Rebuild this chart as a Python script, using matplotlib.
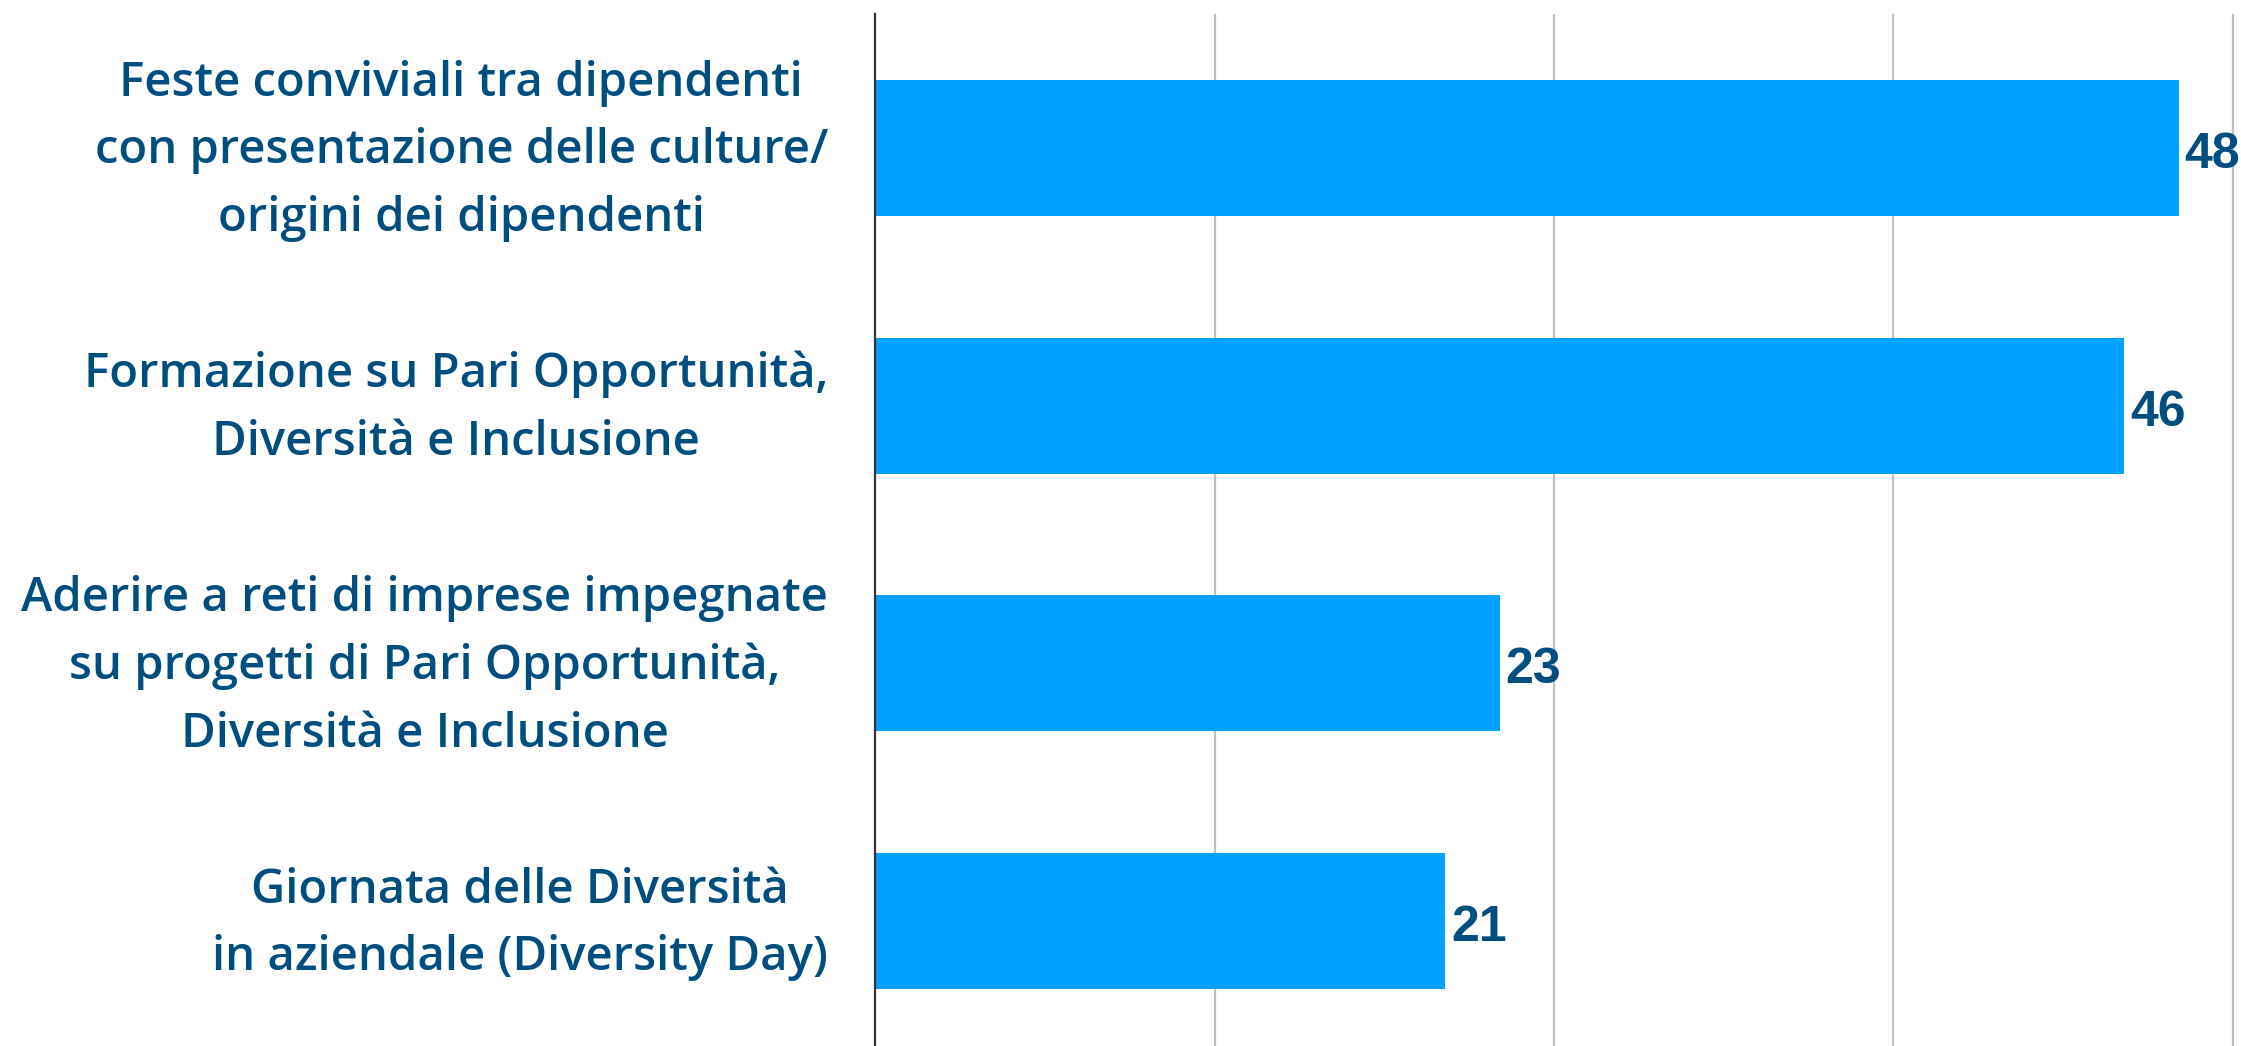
import matplotlib
matplotlib.use("Agg")
import matplotlib.pyplot as plt

# Data
categories = [
    "Feste conviviali tra dipendenti\ncon presentazione delle culture/\norigini dei dipendenti",
    "Formazione su Pari Opportunità,\nDiversità e Inclusione",
    "Aderire a reti di imprese impegnate\nsu progetti di Pari Opportunità,\nDiversità e Inclusione",
    "Giornata delle Diversità\nin aziendale (Diversity Day)",
]
values = [48, 46, 23, 21]
grid_ticks = [12.5, 25, 37.5, 50]

BAR_COLOR = "#00A2FF"
TEXT_COLOR = "#004E80"

fig = plt.figure(figsize=(22.41, 10.46), dpi=100)
ax = fig.add_axes([0.3905, 0.0, 0.6095, 0.9866])

positions = list(range(len(categories)))
ax.barh(positions, values, height=0.528, color=BAR_COLOR, zorder=3)

ax.set_xlim(0, 50.3)
ax.set_ylim(3.485, -0.52)

# vertical gridlines only
ax.set_xticks(grid_ticks)
ax.xaxis.grid(True, color="#c0c0c0", linewidth=1.6, zorder=0)
ax.tick_params(axis="x", length=0, labelbottom=False)

for side in ("top", "right", "bottom"):
    ax.spines[side].set_visible(False)
ax.spines["left"].set_color("#333333")
ax.spines["left"].set_linewidth(1.6)
ax.spines["left"].set_zorder(4)

# category labels, right-aligned blocks with centred lines
ax.set_yticks(positions)
ax.set_yticklabels([])
ax.tick_params(axis="y", length=0)
for pos, cat in zip(positions, categories):
    ax.annotate(cat, xy=(0, pos), xycoords=("axes fraction", "data"),
                xytext=(-34, -2), textcoords="offset points",
                ha="right", va="center", multialignment="center",
                fontsize=34, fontweight="semibold", linespacing=1.57,
                family=["Open Sans", "DejaVu Sans"], color=TEXT_COLOR,
                annotation_clip=False)

# value labels at bar ends
for pos, val in zip(positions, values):
    ax.annotate(f"{val}", xy=(val, pos), xytext=(4, -5),
                textcoords="offset points", va="center", ha="left",
                fontsize=36, fontweight="bold", color=TEXT_COLOR,
                family=["Liberation Sans", "DejaVu Sans"],
                annotation_clip=False, zorder=5)

fig.savefig("out.png", dpi=100, facecolor="white")
